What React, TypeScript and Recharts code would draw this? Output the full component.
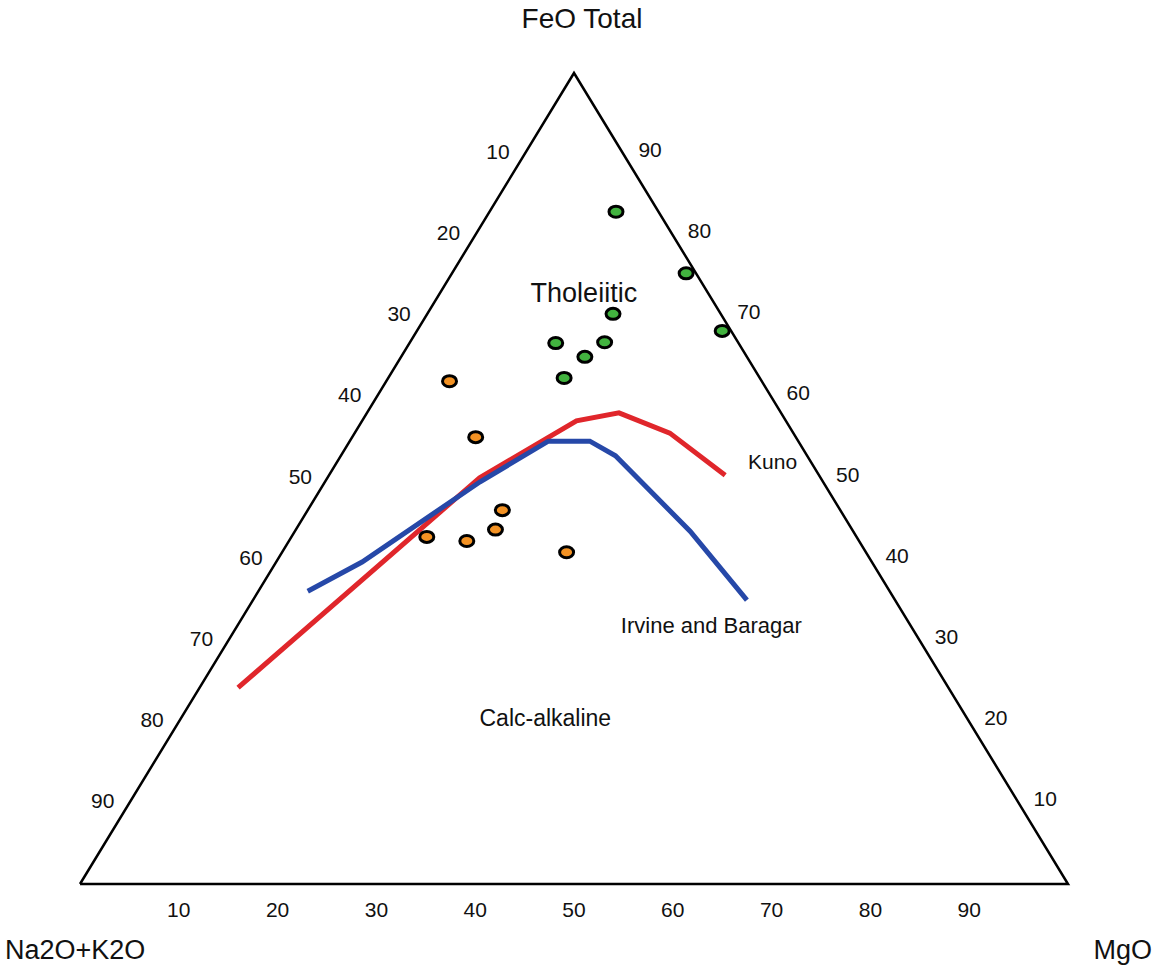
import React from "react";
import {
  ComposedChart,
  Line,
  Scatter,
  XAxis,
  YAxis,
  ReferenceDot,
} from "recharts";

// AFM ternary: compositions as FeO total / Na2O+K2O / MgO (wt%)
type Comp = { feo: number; alk: number; mgo: number };

const tholeiiticSamples: Comp[] = [
  { feo: 82.9, alk: 4.3, mgo: 12.8 },
  { feo: 75.3, alk: 1.0, mgo: 23.7 },
  { feo: 70.3, alk: 10.9, mgo: 18.8 },
  { feo: 68.2, alk: 0.9, mgo: 30.9 },
  { feo: 66.7, alk: 18.5, mgo: 14.8 },
  { feo: 66.8, alk: 13.5, mgo: 19.7 },
  { feo: 65.0, alk: 16.4, mgo: 18.6 },
  { feo: 62.4, alk: 19.8, mgo: 17.8 },
];

const calcAlkalineSamples: Comp[] = [
  { feo: 62.0, alk: 31.6, mgo: 6.4 },
  { feo: 55.1, alk: 32.4, mgo: 12.5 },
  { feo: 46.1, alk: 34.2, mgo: 19.7 },
  { feo: 43.7, alk: 36.1, mgo: 20.2 },
  { feo: 42.8, alk: 43.5, mgo: 13.7 },
  { feo: 42.3, alk: 39.7, mgo: 18.0 },
  { feo: 40.9, alk: 30.3, mgo: 28.8 },
];

const kunoLine: Comp[] = [
  { feo: 24.2, alk: 71.9, mgo: 3.9 },
  { feo: 50.1, alk: 34.5, mgo: 15.4 },
  { feo: 57.1, alk: 21.2, mgo: 21.7 },
  { feo: 58.1, alk: 16.4, mgo: 25.5 },
  { feo: 55.6, alk: 12.5, mgo: 31.9 },
  { feo: 50.4, alk: 9.5, mgo: 40.1 },
];

const irvineBaragarLine: Comp[] = [
  { feo: 36.1, alk: 58.9, mgo: 5.0 },
  { feo: 39.7, alk: 51.6, mgo: 8.7 },
  { feo: 49.6, alk: 34.7, mgo: 15.7 },
  { feo: 54.6, alk: 25.3, mgo: 20.1 },
  { feo: 54.6, alk: 21.1, mgo: 24.3 },
  { feo: 52.8, alk: 19.4, mgo: 27.8 },
  { feo: 43.5, alk: 16.5, mgo: 40.0 },
  { feo: 35.0, alk: 15.0, mgo: 50.0 },
];

const frame: Comp[] = [
  { feo: 0, alk: 100, mgo: 0 },
  { feo: 0, alk: 0, mgo: 100 },
  { feo: 100, alk: 0, mgo: 0 },
  { feo: 0, alk: 100, mgo: 0 },
];

const tickValues = [10, 20, 30, 40, 50, 60, 70, 80, 90];

// ternary -> cartesian (Alk corner at 0,0, MgO at 100,0, FeO at 50,100)
const toXY = (p: Comp) => {
  const s = p.feo + p.alk + p.mgo;
  const f = (p.feo / s) * 100;
  const m = (p.mgo / s) * 100;
  return { x: m + f / 2, y: f };
};

const leftTicks = tickValues.map((t) => ({
  ...toXY({ feo: 100 - t, alk: t, mgo: 0 }),
  label: t,
}));
const rightTicks = tickValues.map((t) => ({
  ...toXY({ feo: t, alk: 0, mgo: 100 - t }),
  label: t,
}));

const FONT = "'Liberation Sans', Arial, Helvetica, sans-serif";
const INK = "#111";

const marker = (fill: string) => (props: any) => (
  <ellipse
    cx={props.cx}
    cy={props.cy}
    rx={7}
    ry={5.5}
    fill={fill}
    stroke="#000"
    strokeWidth={3}
  />
);

const tickText = (dx: number, dy: number, anchor: "start" | "end") => (props: any) => (
  <text
    x={props.cx + dx}
    y={props.cy + dy}
    textAnchor={anchor}
    fontFamily={FONT}
    fontSize={21}
    fill={INK}
  >
    {props.payload.label}
  </text>
);

const note = (text: string, size: number, dx: number, dy: number, anchor = "middle") => (props: any) => (
  <text
    x={props.cx + dx}
    y={props.cy + dy}
    textAnchor={anchor}
    fontFamily={FONT}
    fontSize={size}
    fill={INK}
  >
    {text}
  </text>
);

const apex = toXY(frame[2]);
const alkCorner = toXY(frame[0]);
const mgoCorner = toXY(frame[1]);

export default function App() {
  return (
    <div style={{ background: "#fff" }}>
      {/* the corner titles run to the page edges, so drop the body margin */}
      <style>{"body{margin:0}"}</style>
      <ComposedChart
        width={1154}
        height={967}
        margin={{ top: 73, right: 86, bottom: 43, left: 80 }}
      >
        <XAxis
          type="number"
          dataKey="x"
          domain={[0, 100]}
          ticks={tickValues}
          interval={0}
          axisLine={false}
          tickLine={false}
          tickMargin={12}
          height={40}
          tick={{ fontSize: 21, fill: INK, fontFamily: FONT }}
        />
        <YAxis type="number" dataKey="y" domain={[0, 100]} hide />

        <Line
          data={frame.map(toXY)}
          dataKey="y"
          type="linear"
          stroke="#000"
          strokeWidth={2.5}
          dot={false}
          activeDot={false}
          isAnimationActive={false}
        />
        <Line
          data={kunoLine.map(toXY)}
          dataKey="y"
          type="linear"
          stroke="#e0262b"
          strokeWidth={5}
          dot={false}
          activeDot={false}
          isAnimationActive={false}
        />
        <Line
          data={irvineBaragarLine.map(toXY)}
          dataKey="y"
          type="linear"
          stroke="#2648a8"
          strokeWidth={5}
          dot={false}
          activeDot={false}
          isAnimationActive={false}
        />

        <Scatter
          data={tholeiiticSamples.map(toXY)}
          dataKey="y"
          shape={marker("#42b33f")}
          isAnimationActive={false}
        />
        <Scatter
          data={calcAlkalineSamples.map(toXY)}
          dataKey="y"
          shape={marker("#f39224")}
          isAnimationActive={false}
        />

        <Scatter
          data={leftTicks}
          dataKey="y"
          shape={tickText(-15, 5, "end")}
          isAnimationActive={false}
        />
        <Scatter
          data={rightTicks}
          dataKey="y"
          shape={tickText(15, 3, "start")}
          isAnimationActive={false}
        />

        <ReferenceDot x={51} y={72.9} r={0} ifOverflow="visible" shape={note("Tholeiitic", 27, 0, 9)} />
        <ReferenceDot x={47.1} y={20.5} r={0} ifOverflow="visible" shape={note("Calc-alkaline", 23, 0, 8)} />
        <ReferenceDot x={70.1} y={52} r={0} ifOverflow="visible" shape={note("Kuno", 21, 0, 7)} />
        <ReferenceDot x={63.9} y={31.9} r={0} ifOverflow="visible" shape={note("Irvine and Baragar", 22, 0, 8)} />

        <ReferenceDot x={apex.x} y={apex.y} r={0} ifOverflow="visible" shape={note("FeO Total", 28, 8, -45)} />
        <ReferenceDot x={alkCorner.x} y={alkCorner.y} r={0} ifOverflow="visible" shape={note("Na2O+K2O", 27, -75, 75, "start")} />
        <ReferenceDot x={mgoCorner.x} y={mgoCorner.y} r={0} ifOverflow="visible" shape={note("MgO", 27, 84, 75, "end")} />
      </ComposedChart>
    </div>
  );
}
